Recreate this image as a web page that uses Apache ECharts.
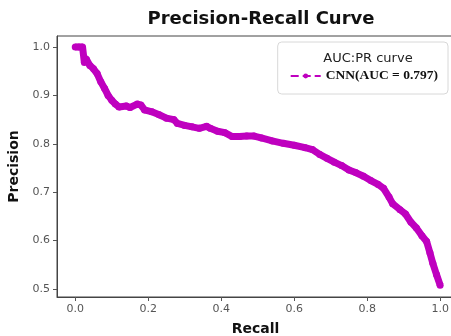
<!DOCTYPE html>
<html>
<head>
<meta charset="utf-8">
<script src="https://cdn.jsdelivr.net/npm/echarts@6/dist/echarts.min.js"></script>
<style>
  html, body { margin: 0; padding: 0; background: #fff; }
  #chart { width: 451px; height: 336px; }
</style>
</head>
<body>
<div id="chart"></div>
<script>
// values
const recall = [
  0.00, 0.01, 0.02, 0.025, 0.03, 0.04, 0.05, 0.06, 0.07, 0.08,
  0.09, 0.10, 0.11, 0.12, 0.14, 0.15, 0.17, 0.18, 0.19, 0.21,
  0.23, 0.25, 0.27, 0.28, 0.30, 0.32, 0.34, 0.36, 0.37, 0.39,
  0.41, 0.43, 0.45, 0.47, 0.49, 0.51, 0.54, 0.57, 0.60, 0.63,
  0.65, 0.67, 0.69, 0.71, 0.73, 0.75, 0.77, 0.79, 0.81, 0.83,
  0.845, 0.86, 0.87, 0.89, 0.905, 0.92, 0.935, 0.95, 0.963, 0.972,
  0.98, 0.99, 1.00
];
const precision = [
  1.000, 1.000, 1.000, 0.968, 0.975, 0.962, 0.955, 0.945, 0.928, 0.915,
  0.900, 0.890, 0.882, 0.876, 0.878, 0.875, 0.882, 0.880, 0.870, 0.866,
  0.860, 0.853, 0.850, 0.842, 0.838, 0.835, 0.832, 0.836, 0.832, 0.826,
  0.823, 0.815, 0.815, 0.816, 0.816, 0.812, 0.806, 0.801, 0.797, 0.792,
  0.788, 0.778, 0.770, 0.762, 0.755, 0.746, 0.740, 0.733, 0.724, 0.716,
  0.708, 0.690, 0.676, 0.664, 0.655, 0.638, 0.626, 0.610, 0.598, 0.575,
  0.553, 0.530, 0.508
];
const xTicks = [0.0, 0.2, 0.4, 0.6, 0.8, 1.0];
const yTicks = [0.5, 0.6, 0.7, 0.8, 0.9, 1.0];

const seriesName = "CNN(AUC = 0.797)";
const curveColor = "#bf00bf";
const tickColor = "#555";

const chart = echarts.init(document.getElementById("chart"));

chart.setOption({
  animation: false,
  title: [
    {
      text: "Precision-Recall Curve",
      left: 256,
      top: 5,
      textAlign: "center",
      textStyle: { fontFamily: "DejaVu Sans", fontWeight: "bold", fontSize: 18, color: "#111" }
    },
    {
      text: "AUC:PR curve",
      left: 363,
      top: 47,
      textAlign: "center",
      textStyle: { fontFamily: "DejaVu Sans", fontWeight: "normal", fontSize: 13, color: "#222" }
    }
  ],
  legend: {
    right: 3,
    top: 42,
    orient: "vertical",
    backgroundColor: "#fff",
    borderColor: "#d8d8d8",
    borderWidth: 1,
    borderRadius: 4,
    padding: [27, 10, 11, 12],
    itemWidth: 30,
    itemHeight: 6,
    itemGap: 6,
    lineStyle: { type: "dashed", width: 2 },
    textStyle: { fontFamily: "Liberation Serif", fontWeight: "bold", fontSize: 13.5, color: "#111" },
    data: [seriesName]
  },
  grid: {
    left: 57,
    right: -3,
    top: 36,
    bottom: 39,
    outerBoundsMode: "none",
    containLabel: false,
    show: true,
    borderColor: "#444",
    borderWidth: 1
  },
  xAxis: {
    type: "value",
    min: -0.05,
    max: 1.038,
    name: "Recall",
    nameLocation: "middle",
    nameGap: 25,
    nameTextStyle: { fontFamily: "DejaVu Sans", fontWeight: "bold", fontSize: 14, color: "#111" },
    splitLine: { show: false },
    axisLine: { onZero: false, lineStyle: { color: "#444" } },
    axisTick: { customValues: xTicks, length: 4, lineStyle: { color: tickColor } },
    axisLabel: {
      customValues: xTicks,
      formatter: v => v.toFixed(1),
      fontFamily: "DejaVu Sans",
      fontSize: 11,
      color: tickColor,
      margin: 7
    }
  },
  yAxis: {
    type: "value",
    min: 0.4835,
    max: 1.0227,
    name: "Precision",
    nameLocation: "middle",
    nameGap: 36,
    nameTextStyle: { fontFamily: "DejaVu Sans", fontWeight: "bold", fontSize: 14, color: "#111" },
    splitLine: { show: false },
    axisLine: { show: true, onZero: false, lineStyle: { color: "#444" } },
    axisTick: { show: true, customValues: yTicks, length: 4, lineStyle: { color: tickColor } },
    axisLabel: {
      customValues: yTicks,
      formatter: v => v.toFixed(1),
      fontFamily: "DejaVu Sans",
      fontSize: 11,
      color: tickColor,
      margin: 7
    }
  },
  series: [
    {
      name: seriesName,
      type: "line",
      data: recall.map((r, i) => [r, precision[i]]),
      color: curveColor,
      symbol: "circle",
      symbolSize: 7,
      showSymbol: true,
      lineStyle: { color: curveColor, width: 7 },
      itemStyle: { color: curveColor }
    }
  ]
});
</script>
</body>
</html>
